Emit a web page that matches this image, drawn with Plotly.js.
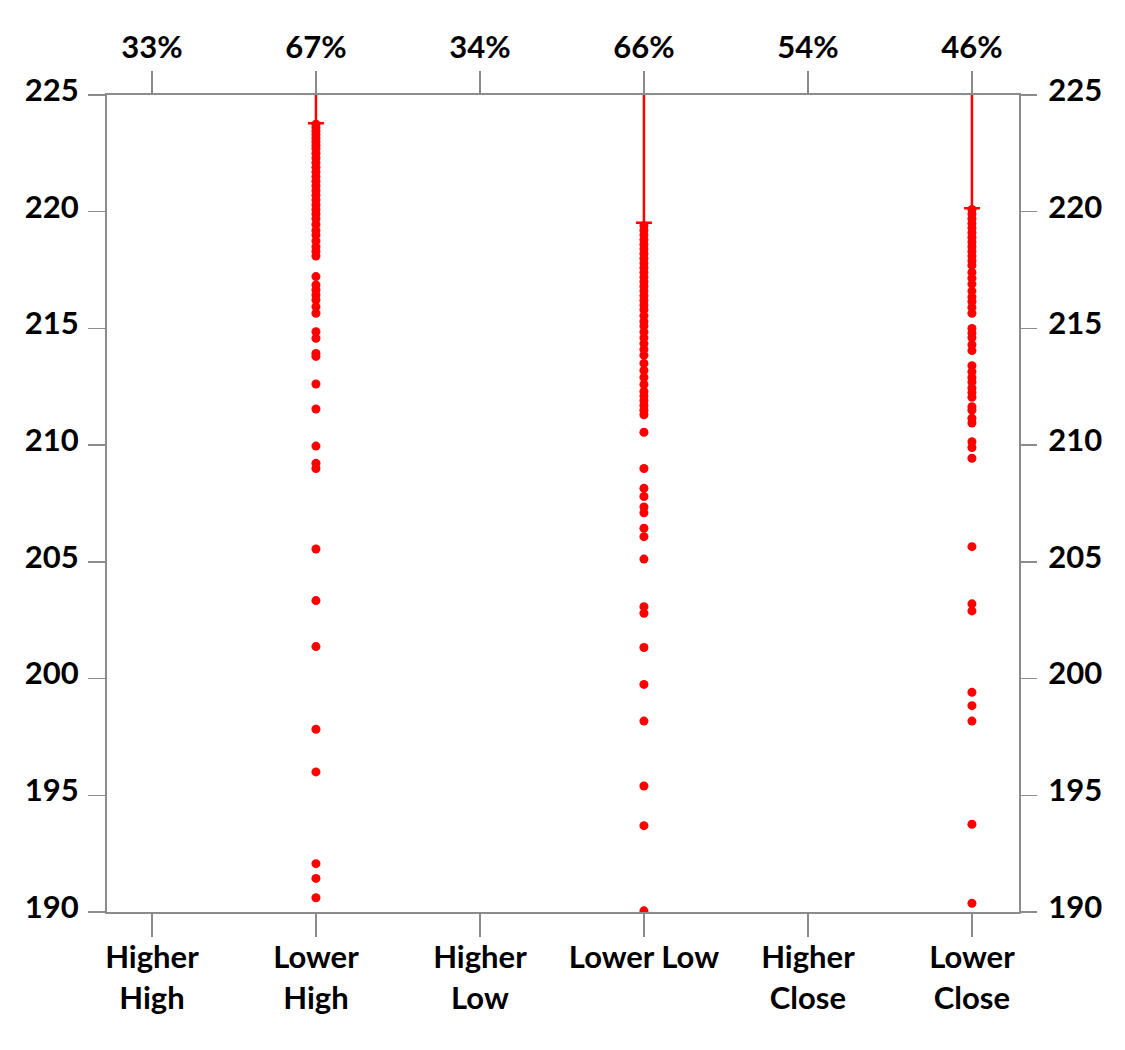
<!DOCTYPE html>
<html>
<head>
<meta charset="utf-8">
<script src="https://cdn.plot.ly/plotly-3.0.1.min.js"></script>
<style>html,body{margin:0;padding:0;background:#fff;}#chart{width:1125px;height:1050px;}</style>
</head>
<body>
<div id="chart"></div>
<script>
// Categories and labels
const categories = ["Higher<br>High", "Lower<br>High", "Higher<br>Low", "Lower Low", "Higher<br>Close", "Lower<br>Close"];
const categoryPositions = [0, 1, 2, 3, 4, 5];
const percentLabels = ["33%", "67%", "34%", "66%", "54%", "46%"];
const yTicks = [190, 195, 200, 205, 210, 215, 220, 225];

// Observed values per category (only Lower High, Lower Low, Lower Close have points)
const lowerHighValues = [223.75, 223.6, 223.45, 223.3, 223.15, 223.0, 222.85, 222.7, 222.5, 222.3, 222.1, 221.9,
  221.7, 221.5, 221.3, 221.1, 220.9, 220.7, 220.5, 220.3, 220.1, 219.9, 219.7, 219.45, 219.2, 219.0, 218.75,
  218.5, 218.3, 218.1, 217.22, 216.86, 216.65, 216.43, 216.22, 215.93, 215.65, 214.86, 214.58, 213.93, 213.8,
  212.62, 211.55, 209.96, 209.22, 209.0, 205.55, 203.34, 201.37, 197.83, 196.0, 192.07, 191.44, 190.61];
const lowerLowValues = [219.4, 219.2, 219.0, 218.8, 218.6, 218.4, 218.2, 218.0, 217.8, 217.6, 217.4, 217.2,
  217.0, 216.8, 216.6, 216.4, 216.2, 216.0, 215.8, 215.55, 215.3, 215.1, 214.85, 214.6, 214.35, 214.1, 213.85,
  213.5, 213.2, 212.9, 212.6, 212.3, 212.1, 211.9, 211.7, 211.5, 211.3, 210.55, 209.0, 208.15, 207.8, 207.35,
  207.1, 206.44, 206.08, 205.12, 203.08, 202.8, 201.33, 199.75, 198.18, 195.4, 193.7, 190.05];
const lowerCloseValues = [220.1, 219.9, 219.7, 219.5, 219.3, 219.1, 218.9, 218.7, 218.5, 218.3, 218.1, 217.9,
  217.7, 217.4, 217.15, 216.9, 216.6, 216.35, 216.15, 215.9, 215.65, 215.0, 214.8, 214.6, 214.3, 214.05, 213.4,
  213.15, 212.9, 212.7, 212.45, 212.25, 212.05, 211.65, 211.5, 211.15, 210.95, 210.15, 209.9, 209.44, 205.65,
  203.2, 202.9, 199.41, 198.84, 198.18, 193.76, 190.37];

// Error bar (lower end with cap, upper end off the chart)
const errorCategories = [1, 3, 5];
const errorLowerEnds = [223.79, 219.53, 220.15];
const errorPlus = [20, 20, 20];
const errorMinus = [0, 0, 0];

const red = "#ff0000";
const fontSpec = {family: "Lato, 'Open Sans', sans-serif", size: 31, color: "#000", weight: "bold"};
const axisGray = "#8c8c8c";

function pointsTrace(pos, vals) {
  return {
    type: "scatter", mode: "markers",
    x: vals.map(() => pos), y: vals,
    marker: {color: red, size: 9, line: {width: 0}},
    hoverinfo: "y", showlegend: false
  };
}

const traces = [
  {
    type: "scatter", mode: "markers",
    x: errorCategories, y: errorLowerEnds,
    marker: {color: red, size: 1, opacity: 0},
    error_y: {type: "data", symmetric: false, array: errorPlus, arrayminus: errorMinus,
      color: red, thickness: 2.5, width: 8},
    showlegend: false, hoverinfo: "skip"
  },
  pointsTrace(categoryPositions[1], lowerHighValues),
  pointsTrace(categoryPositions[3], lowerLowValues),
  pointsTrace(categoryPositions[5], lowerCloseValues),
  // invisible trace to activate secondary axes
  {type: "scatter", mode: "markers", x: [0], y: [200], xaxis: "x2", yaxis: "y2",
   marker: {opacity: 0}, showlegend: false, hoverinfo: "skip"}
];

const xRange = [-0.274, 5.287];
const yRange = [190, 225];

const layout = {
  width: 1125, height: 1050,
  margin: {l: 107, r: 106, t: 95, b: 138, pad: 0},
  paper_bgcolor: "#fff", plot_bgcolor: "#fff",
  font: fontSpec,
  showlegend: false,
  xaxis: {
    range: xRange, tickmode: "array", tickvals: categoryPositions, ticktext: categories,
    showgrid: false, zeroline: false, showline: true, linecolor: axisGray, linewidth: 2, mirror: true,
    ticks: "outside", ticklen: 23, tickwidth: 1.5, tickcolor: axisGray,
    tickfont: fontSpec, ticklabelstandoff: -6
  },
  xaxis2: {
    range: xRange, overlaying: "x", side: "top", tickmode: "array", tickvals: categoryPositions, ticktext: percentLabels,
    showgrid: false, zeroline: false, showline: false,
    ticks: "outside", ticklen: 23, tickwidth: 1.5, tickcolor: axisGray,
    tickfont: fontSpec, ticklabelstandoff: 1
  },
  yaxis: {
    range: yRange, tickmode: "array", tickvals: yTicks, ticktext: yTicks.map(String),
    showgrid: false, zeroline: false, showline: true, linecolor: axisGray, linewidth: 2, mirror: true,
    ticks: "outside", ticklen: 17, tickwidth: 1.5, tickcolor: axisGray,
    tickfont: fontSpec, ticklabelstandoff: 3, ticklabelshift: -5
  },
  yaxis2: {
    range: yRange, overlaying: "y", side: "right", tickmode: "array", tickvals: yTicks, ticktext: yTicks.map(String),
    showgrid: false, zeroline: false, showline: false,
    ticks: "outside", ticklen: 17, tickwidth: 1.5, tickcolor: axisGray,
    tickfont: fontSpec, ticklabelstandoff: 5, ticklabelshift: -5
  }
};

Plotly.newPlot("chart", traces, layout, {staticPlot: true, displayModeBar: false});
</script>
</body>
</html>
